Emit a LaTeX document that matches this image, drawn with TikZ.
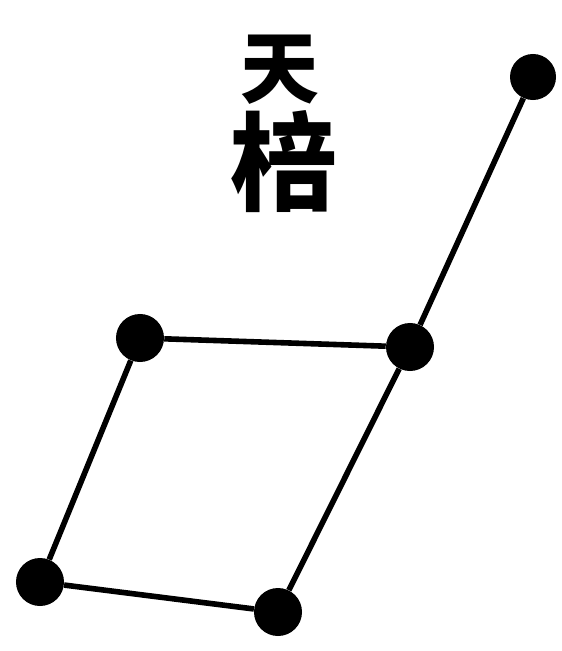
\documentclass[tikz,border=0pt]{standalone}
\usepackage{fontspec}
\newfontfamily\cjk{Noto Sans CJK SC}
\begin{document}
\begin{tikzpicture}[x=0.025cm, y=-0.025cm,
    star/.style={circle, fill=black, inner sep=0pt, minimum size=1.2cm},
    link/.style={line width=1.4mm}]
    \useasboundingbox (0,0) rectangle (561,651);

    % Name of the asterism, top to bottom
    \node[inner sep=0pt] (tian) at (280,70) {\cjk\bfseries\fontsize{56}{56}\selectfont 天};
    \node[inner sep=0pt] (bang) at (284,162) {\cjk\bfseries\fontsize{76}{76}\selectfont 棓};

    % Stars
    \node[star, minimum size=1.15cm] (top) at (533,77) {};
    \node[star] (right) at (410,347) {};
    \node[star] (left) at (140,338) {};
    \node[star] (lowleft) at (40,582) {};
    \node[star] (low) at (278,612) {};

    % Links between the stars
    \draw[link] (top) -- (right);
    \draw[link] (right) -- (left);
    \draw[link] (left) -- (lowleft);
    \draw[link] (lowleft) -- (low);
    \draw[link] (low) -- (right);
\end{tikzpicture}
\end{document}
